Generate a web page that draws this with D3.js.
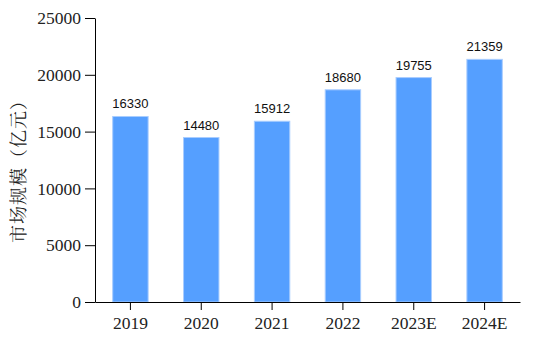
<!DOCTYPE html>
<html>
<head>
<meta charset="utf-8">
<script src="https://d3js.org/d3.v7.min.js"></script>
<style>
 body { margin: 0; background: #fff; }
</style>
</head>
<body>
<svg width="536" height="340"></svg>
<script>
 var years = ["2019", "2020", "2021", "2022", "2023E", "2024E"];
 var values = [16330, 14480, 15912, 18680, 19755, 21359];
 var yTicks = [0, 5000, 10000, 15000, 20000, 25000];

 var svg = d3.select("svg");
 var mLeft = 95, mRight = 520, mTop = 18, mBottom = 302;

 var x = d3.scaleBand().domain(years).range([mLeft, mRight])
           .paddingInner(0.5).paddingOuter(0.25);
 var y = d3.scaleLinear().domain([0, 25000]).range([mBottom, mTop]);

 svg.selectAll("rect.bar")
    .data(values)
    .enter()
    .append("rect")
    .attr("class", "bar")
    .attr("x", function (d, i) { return x(years[i]); })
    .attr("y", function (d) { return y(d); })
    .attr("width", x.bandwidth())
    .attr("height", function (d) { return mBottom - y(d); })
    .attr("fill", "#559fff")
    .attr("stroke", "#a9cdff")
    .attr("stroke-width", 1);

 svg.selectAll("text.val")
    .data(values)
    .enter()
    .append("text")
    .attr("class", "val")
    .attr("x", function (d, i) { return x(years[i]) + x.bandwidth() / 2; })
    .attr("y", function (d) { return y(d) - 8; })
    .attr("text-anchor", "middle")
    .attr("font-family", "Liberation Sans, Arial, sans-serif")
    .attr("font-size", "13px")
    .attr("fill", "#111")
    .text(function (d) { return d; });

 var yAxis = svg.append("g")
    .attr("transform", "translate(" + mLeft + ",0)")
    .call(d3.axisLeft(y).tickValues(yTicks).tickFormat(d3.format("d"))
            .tickSize(10).tickPadding(4).tickSizeOuter(0));
 var xAxis = svg.append("g")
    .attr("transform", "translate(0," + mBottom + ")")
    .call(d3.axisBottom(x).tickSize(8).tickPadding(7).tickSizeOuter(0));

 [yAxis, xAxis].forEach(function (g) {
     g.selectAll("text")
      .attr("font-family", "Liberation Serif, Times New Roman, serif")
      .attr("font-size", "17.5px")
      .attr("fill", "#222");
     g.selectAll("line, path").attr("stroke", "#000");
 });

 svg.append("text")
    .attr("transform", "translate(25,167) rotate(-90)")
    .attr("text-anchor", "middle")
    .attr("font-family", "Noto Serif CJK SC, Noto Sans CJK SC, serif")
    .attr("font-size", "18px")
    .attr("letter-spacing", "1px")
    .attr("fill", "#222")
    .text("市场规模（亿元）");
</script>
</body>
</html>
